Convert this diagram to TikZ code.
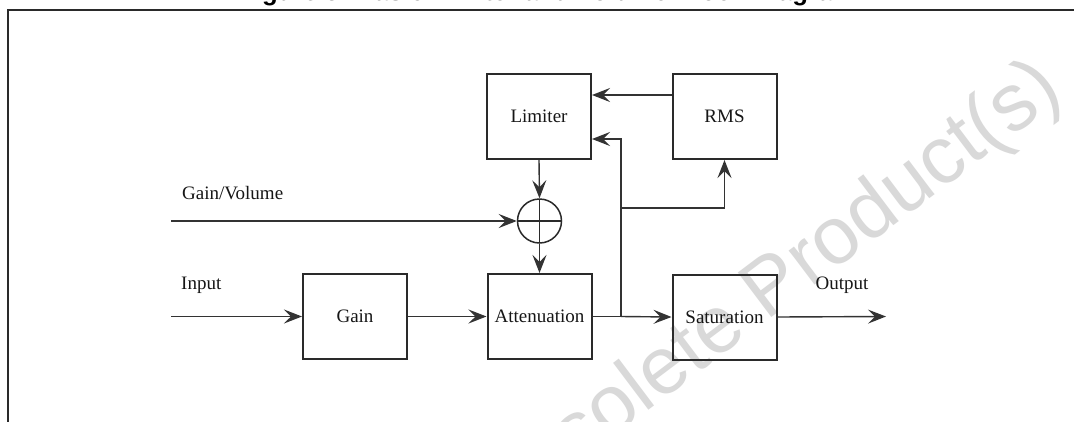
\documentclass[tikz,border=0pt]{standalone}
\usepackage{fontspec}
\setmainfont{Liberation Serif}
\newfontfamily\sansfont{Liberation Sans}
\usetikzlibrary{arrows.meta,calc}
\definecolor{lineclr}{HTML}{333333}
\definecolor{boxclr}{HTML}{2A2A2A}
\definecolor{txtclr}{HTML}{161616}
\definecolor{wmclr}{HTML}{D9D9D9}
\tikzset{
  blk/.style={draw=boxclr, line width=2pt, minimum width=104pt, minimum height=85pt,
              inner sep=0pt, text=txtclr, font=\fontsize{19}{19}\selectfont},
  lbl/.style={inner sep=0pt, text=txtclr, font=\fontsize{19}{19}\selectfont},
  conn/.style={draw=lineclr, line width=1.4pt,
               -{Stealth[length=18pt,width=14pt,inset=7pt]}},
  wire/.style={draw=lineclr, line width=1.4pt},
  sumnode/.style={circle, draw=boxclr, line width=1.5pt, minimum size=44pt, inner sep=0pt,
     path picture={\draw[boxclr, line width=1.5pt]
        (path picture bounding box.north) -- (path picture bounding box.south)
        (path picture bounding box.west) -- (path picture bounding box.east);}}
}
\begin{document}
\begin{tikzpicture}[x=1pt,y=-1pt]
\useasboundingbox (0,0) rectangle (1074,421);
\fill[white] (0,0) rectangle (1074,421);
% watermark
\node[anchor=base west, rotate=37, inner sep=0pt, text=wmclr,
      font=\sansfont\fontsize{81}{81}\selectfont] (wm) at (490,530) {Obsolete Product(s)};
% clipped title
\node[anchor=base west, inner sep=0pt, text=black,
      font=\sansfont\bfseries\fontsize{25.7}{25.7}\selectfont] (title) at (239,0.5)
      {Figure 5. Basic Limiter and Volume Block Diagram};
% frame
\draw[boxclr, line width=2pt] (8,440) -- (8,10) -- (1090,10);
% blocks
\node[blk] (lim) at (539,116.5) {Limiter};
\node[blk] (rms) at (724.5,116.5) {RMS};
\node[blk] (gain) at (355,316.5) {Gain};
\node[blk] (att) at (539.5,316.5) {Attenuation};
\node[blk] (sat) at (724.5,317) {Saturation};
\node[sumnode] (sum) at (539.5,221) {};
% labels
\node[lbl, anchor=west] (gvl) at (182,193) {Gain/Volume};
\node[lbl, anchor=west] (inl) at (181,285) {Input};
\node[lbl] (outl) at (842,285) {Output};
% coordinates
\coordinate (gvs) at (171,221);
\coordinate (ins) at (171,316.5);
\coordinate (oute) at (886,316.5);
\coordinate (jn) at (621,316.5);
\coordinate (br) at (621,208);
% connectors
\draw[conn] (ins) -- (gain.west);
\draw[conn] (gain.east) -- (att.west);
\draw[wire] (att.east) -- (jn);
\draw[conn] (jn) -- (sat.west);
\draw[conn] (sat.east) -- (oute);
\draw[conn, line width=2pt] (gvs) -- (sum.west);
\draw[conn] (lim.south) -- (sum.north);
\draw[conn] (sum.south) -- (att.north);
\draw[conn] (jn) |- ([yshift=-22.5pt]lim.east);
\draw[conn, line width=1.8pt] (br) -| (rms.south);
\draw[conn] ([yshift=21.5pt]rms.west) -- ([yshift=21.5pt]lim.east);
\end{tikzpicture}
\end{document}
